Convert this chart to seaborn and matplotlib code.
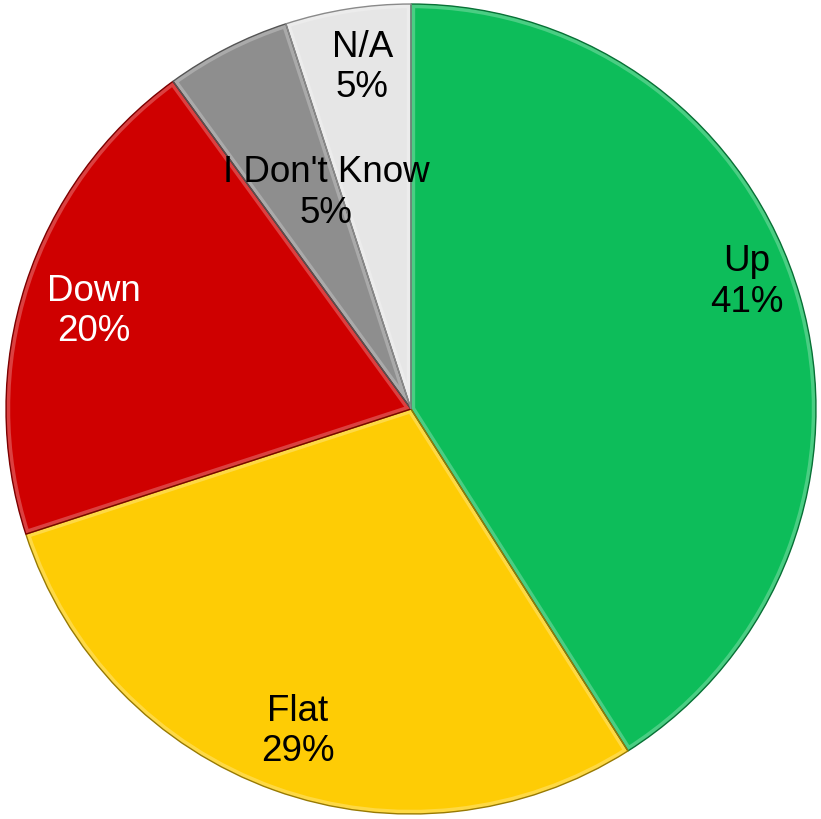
import matplotlib
matplotlib.use("Agg")
import matplotlib.pyplot as plt
import seaborn as sns
import numpy as np

# Survey answer shares (percent)
categories = ["Up", "Flat", "Down", "I Don't Know", "N/A"]
shares = [41, 29, 20, 5, 5]
slice_colors = ["#0DBD5A", "#FECC05", "#CF0000", "#8E8E8E", "#E6E6E6"]
label_colors = ["black", "black", "white", "black", "black"]
# label centres in axes data units (pie radius = 1)
label_xy = [(0.828, 0.314), (-0.280, -0.796), (-0.784, 0.241), (-0.209, 0.533), (-0.120, 0.843)]

sns.set_theme(style="white")
plt.rcParams["font.family"] = ["Liberation Sans", "DejaVu Sans"]

fig = plt.figure(figsize=(8.21, 8.19), dpi=100)
ax = fig.add_axes([4 / 821, 3 / 819, 814 / 821, 814 / 819])
palette = sns.color_palette(slice_colors)

wedges, _ = ax.pie(shares, colors=palette, startangle=90, counterclock=False,
                   radius=1.0, wedgeprops=dict(edgecolor="none", linewidth=0))

# soft bevel: a light inner rim and a darker outline on each slice
for w, c in zip(wedges, palette):
    rgb = np.array(c)
    light = np.clip(rgb + (1 - rgb) * 0.25, 0, 1)
    dark = rgb * 0.6
    rim = matplotlib.patches.Wedge(w.center, w.r, w.theta1, w.theta2,
                                   facecolor="none", edgecolor=light, linewidth=6,
                                   joinstyle="round", zorder=2)
    ax.add_patch(rim)
    rim.set_clip_path(w)
    outline = matplotlib.patches.Wedge(w.center, w.r, w.theta1, w.theta2,
                                       facecolor="none", edgecolor=dark, linewidth=1.0,
                                       zorder=3)
    ax.add_patch(outline)

for name, val, (x, y), tc in zip(categories, shares, label_xy, label_colors):
    ax.text(x, y, f"{name}\n{val}%", ha="center", va="center", fontsize=26.5,
            color=tc, linespacing=1.2, zorder=4)

ax.set_xlim(-1.005, 1.005)
ax.set_ylim(-1.005, 1.005)
ax.set_aspect("equal")
ax.axis("off")

fig.savefig("out.png", dpi=100)
